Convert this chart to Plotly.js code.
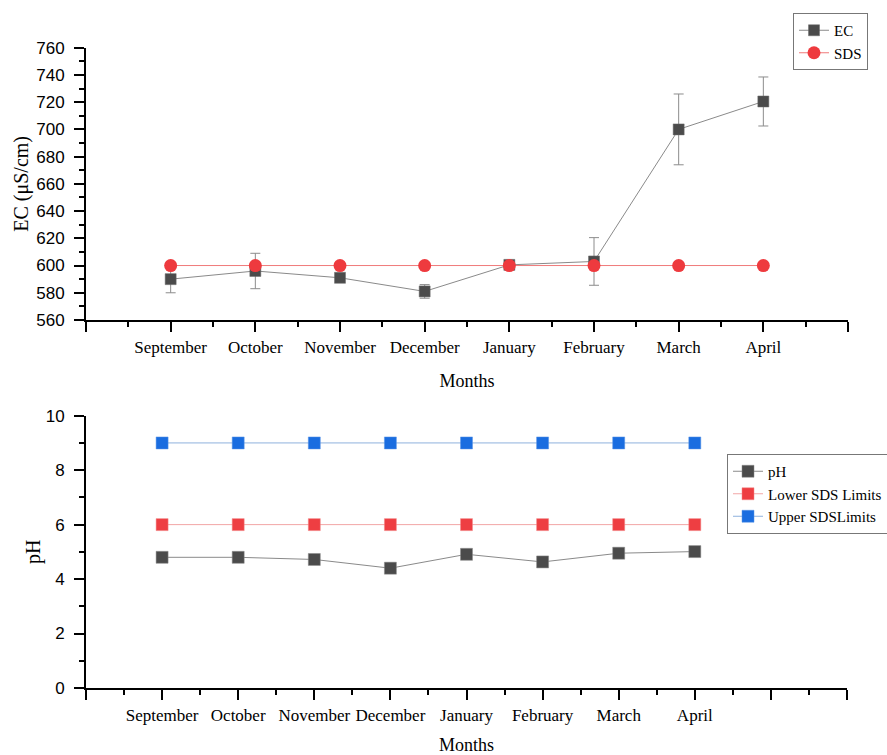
<!DOCTYPE html>
<html>
<head>
<meta charset="utf-8">
<script src="https://cdn.plot.ly/plotly-3.0.1.min.js"></script>
<style>html,body{margin:0;padding:0;background:#fff;overflow:hidden;}#chart{width:887px;height:755px;}</style>
</head>
<body>
<div id="chart"></div>
<script>
// ---- data ----
const monthsTop = ['September','October','November','December','January','February','March','April'];
const ecValues = [590, 596, 591, 581, 600.5, 603, 700, 720.5];
const ecErrors = [10, 13, 2, 5, 1.5, 17.5, 26, 18];
const sdsEC = [600, 600, 600, 600, 600, 600, 600, 600];

const monthsBottom = ['September','October','November','December','January','February','March','April'];
const phValues = [4.80, 4.80, 4.72, 4.40, 4.91, 4.63, 4.95, 5.01];
const lowerSDS = [6, 6, 6, 6, 6, 6, 6, 6];
const upperSDS = [9, 9, 9, 9, 9, 9, 9, 9];

// ---- helpers ----
const xTop = monthsTop.map((m, i) => i + 1);
const xBot = monthsBottom.map((m, i) => i + 1);
const nTop = monthsTop.length + 1;   // axis 0..9
const nBot = monthsBottom.length + 2; // axis 0..10

function majorVals(n) { const a = []; for (let i = 0; i <= n; i++) a.push(i); return a; }
function majorText(labels, n) { const a = []; for (let i = 0; i <= n; i++) a.push(labels[i - 1] || ''); return a; }
function minorVals(n) { const a = []; for (let i = 0; i < n; i++) a.push(i + 0.5); return a; }

const times = 'Liberation Serif, Times New Roman, serif';
const arial = 'Liberation Sans, Arial, sans-serif';

const H = 755, W = 887;
const px = v => v / W;
const py = v => (H - v) / H;

const traces = [
  {
    x: xTop, y: ecValues, name: 'EC', type: 'scatter', mode: 'lines+markers',
    xaxis: 'x', yaxis: 'y', legend: 'legend',
    line: {color: '#8a8a8a', width: 1},
    marker: {symbol: 'square', size: 11, color: '#4b4b4b', line: {color: '#6a6a6a', width: 0.5}},
    error_y: {type: 'data', array: ecErrors, visible: true, color: '#8c8c8c', thickness: 1, width: 5}
  },
  {
    x: xTop, y: sdsEC, name: 'SDS', type: 'scatter', mode: 'lines+markers',
    xaxis: 'x', yaxis: 'y', legend: 'legend',
    line: {color: '#f07a7a', width: 1},
    marker: {symbol: 'circle', size: 13, color: '#ee3a3e'}
  },
  {
    x: xBot, y: phValues, name: 'pH', type: 'scatter', mode: 'lines+markers',
    xaxis: 'x2', yaxis: 'y2', legend: 'legend2',
    line: {color: '#8a8a8a', width: 1},
    marker: {symbol: 'square', size: 12, color: '#4b4b4b', line: {color: '#8a8a8a', width: 0.5}}
  },
  {
    x: xBot, y: lowerSDS, name: 'Lower SDS Limits', type: 'scatter', mode: 'lines+markers',
    xaxis: 'x2', yaxis: 'y2', legend: 'legend2',
    line: {color: '#f2a6a6', width: 1},
    marker: {symbol: 'square', size: 12, color: '#ee3e42', line: {color: '#f28a8a', width: 0.5}}
  },
  {
    x: xBot, y: upperSDS, name: 'Upper SDSLimits', type: 'scatter', mode: 'lines+markers',
    xaxis: 'x2', yaxis: 'y2', legend: 'legend2',
    line: {color: '#8fb1dd', width: 1},
    marker: {symbol: 'square', size: 12, color: '#1a6de0', line: {color: '#5b95e6', width: 0.5}}
  }
];

const axisCommon = {
  showline: true, linecolor: '#000', linewidth: 2,
  ticks: 'outside', ticklen: 10, tickwidth: 2, tickcolor: '#000',
  showgrid: false, zeroline: false, mirror: false, fixedrange: true, automargin: false
};

const layout = {
  width: W, height: H,
  margin: {l: 0, r: 0, t: 0, b: 0, autoexpand: false},
  paper_bgcolor: '#fff', plot_bgcolor: '#fff',
  showlegend: true,
  xaxis: Object.assign({}, axisCommon, {
    domain: [px(86), px(848)], anchor: 'y',
    range: [0, nTop], tickmode: 'array', tickvals: majorVals(nTop), ticktext: majorText(monthsTop, nTop),
    tickfont: {family: times, size: 17, color: '#000'}, ticklabelstandoff: 1,
    minor: {tickmode: 'array', tickvals: minorVals(nTop), ticks: 'outside', ticklen: 5, tickwidth: 2, tickcolor: '#000', showgrid: false},
    title: {text: 'Months', font: {family: times, size: 18, color: '#000'}, standoff: 18}
  }),
  yaxis: Object.assign({}, axisCommon, {
    domain: [py(320), py(47.7)], anchor: 'x',
    range: [560, 760], tickmode: 'linear', tick0: 560, dtick: 20,
    tickfont: {family: arial, size: 17, color: '#000'}, ticklabelstandoff: 6,
    minor: {dtick: 10, ticks: 'outside', ticklen: 5, tickwidth: 2, tickcolor: '#000', showgrid: false},
    title: {text: 'EC (μS/cm)', font: {family: times, size: 20, color: '#000'}, standoff: 2}
  }),
  xaxis2: Object.assign({}, axisCommon, {
    domain: [px(86), px(847)], anchor: 'y2',
    range: [0, nBot], tickmode: 'array', tickvals: majorVals(nBot), ticktext: majorText(monthsBottom, nBot),
    tickfont: {family: times, size: 17, color: '#000'}, ticklabelstandoff: 1,
    minor: {tickmode: 'array', tickvals: minorVals(nBot), ticks: 'outside', ticklen: 5, tickwidth: 2, tickcolor: '#000', showgrid: false},
    title: {text: 'Months', font: {family: times, size: 18, color: '#000'}, standoff: 18}
  }),
  yaxis2: Object.assign({}, axisCommon, {
    domain: [py(688), py(415.7)], anchor: 'x2',
    range: [0, 10], tickmode: 'linear', tick0: 0, dtick: 2,
    tickfont: {family: arial, size: 17, color: '#000'}, ticklabelstandoff: 6,
    minor: {dtick: 1, ticks: 'outside', ticklen: 5, tickwidth: 2, tickcolor: '#000', showgrid: false},
    title: {text: 'pH', font: {family: times, size: 20, color: '#000'}, standoff: 0}
  }),
  legend: {
    x: px(793), y: py(13), xanchor: 'left', yanchor: 'top',
    bgcolor: '#fff', bordercolor: '#777', borderwidth: 1,
    font: {family: times, size: 15, color: '#000'},
    tracegroupgap: 0, itemwidth: 30
  },
  legend2: {
    x: px(727), y: py(454), xanchor: 'left', yanchor: 'top',
    bgcolor: '#fff', bordercolor: '#777', borderwidth: 1,
    font: {family: times, size: 15, color: '#000'},
    tracegroupgap: 0, itemwidth: 30
  }
};

Plotly.newPlot('chart', traces, layout, {displayModeBar: false, staticPlot: true});
</script>
</body>
</html>
